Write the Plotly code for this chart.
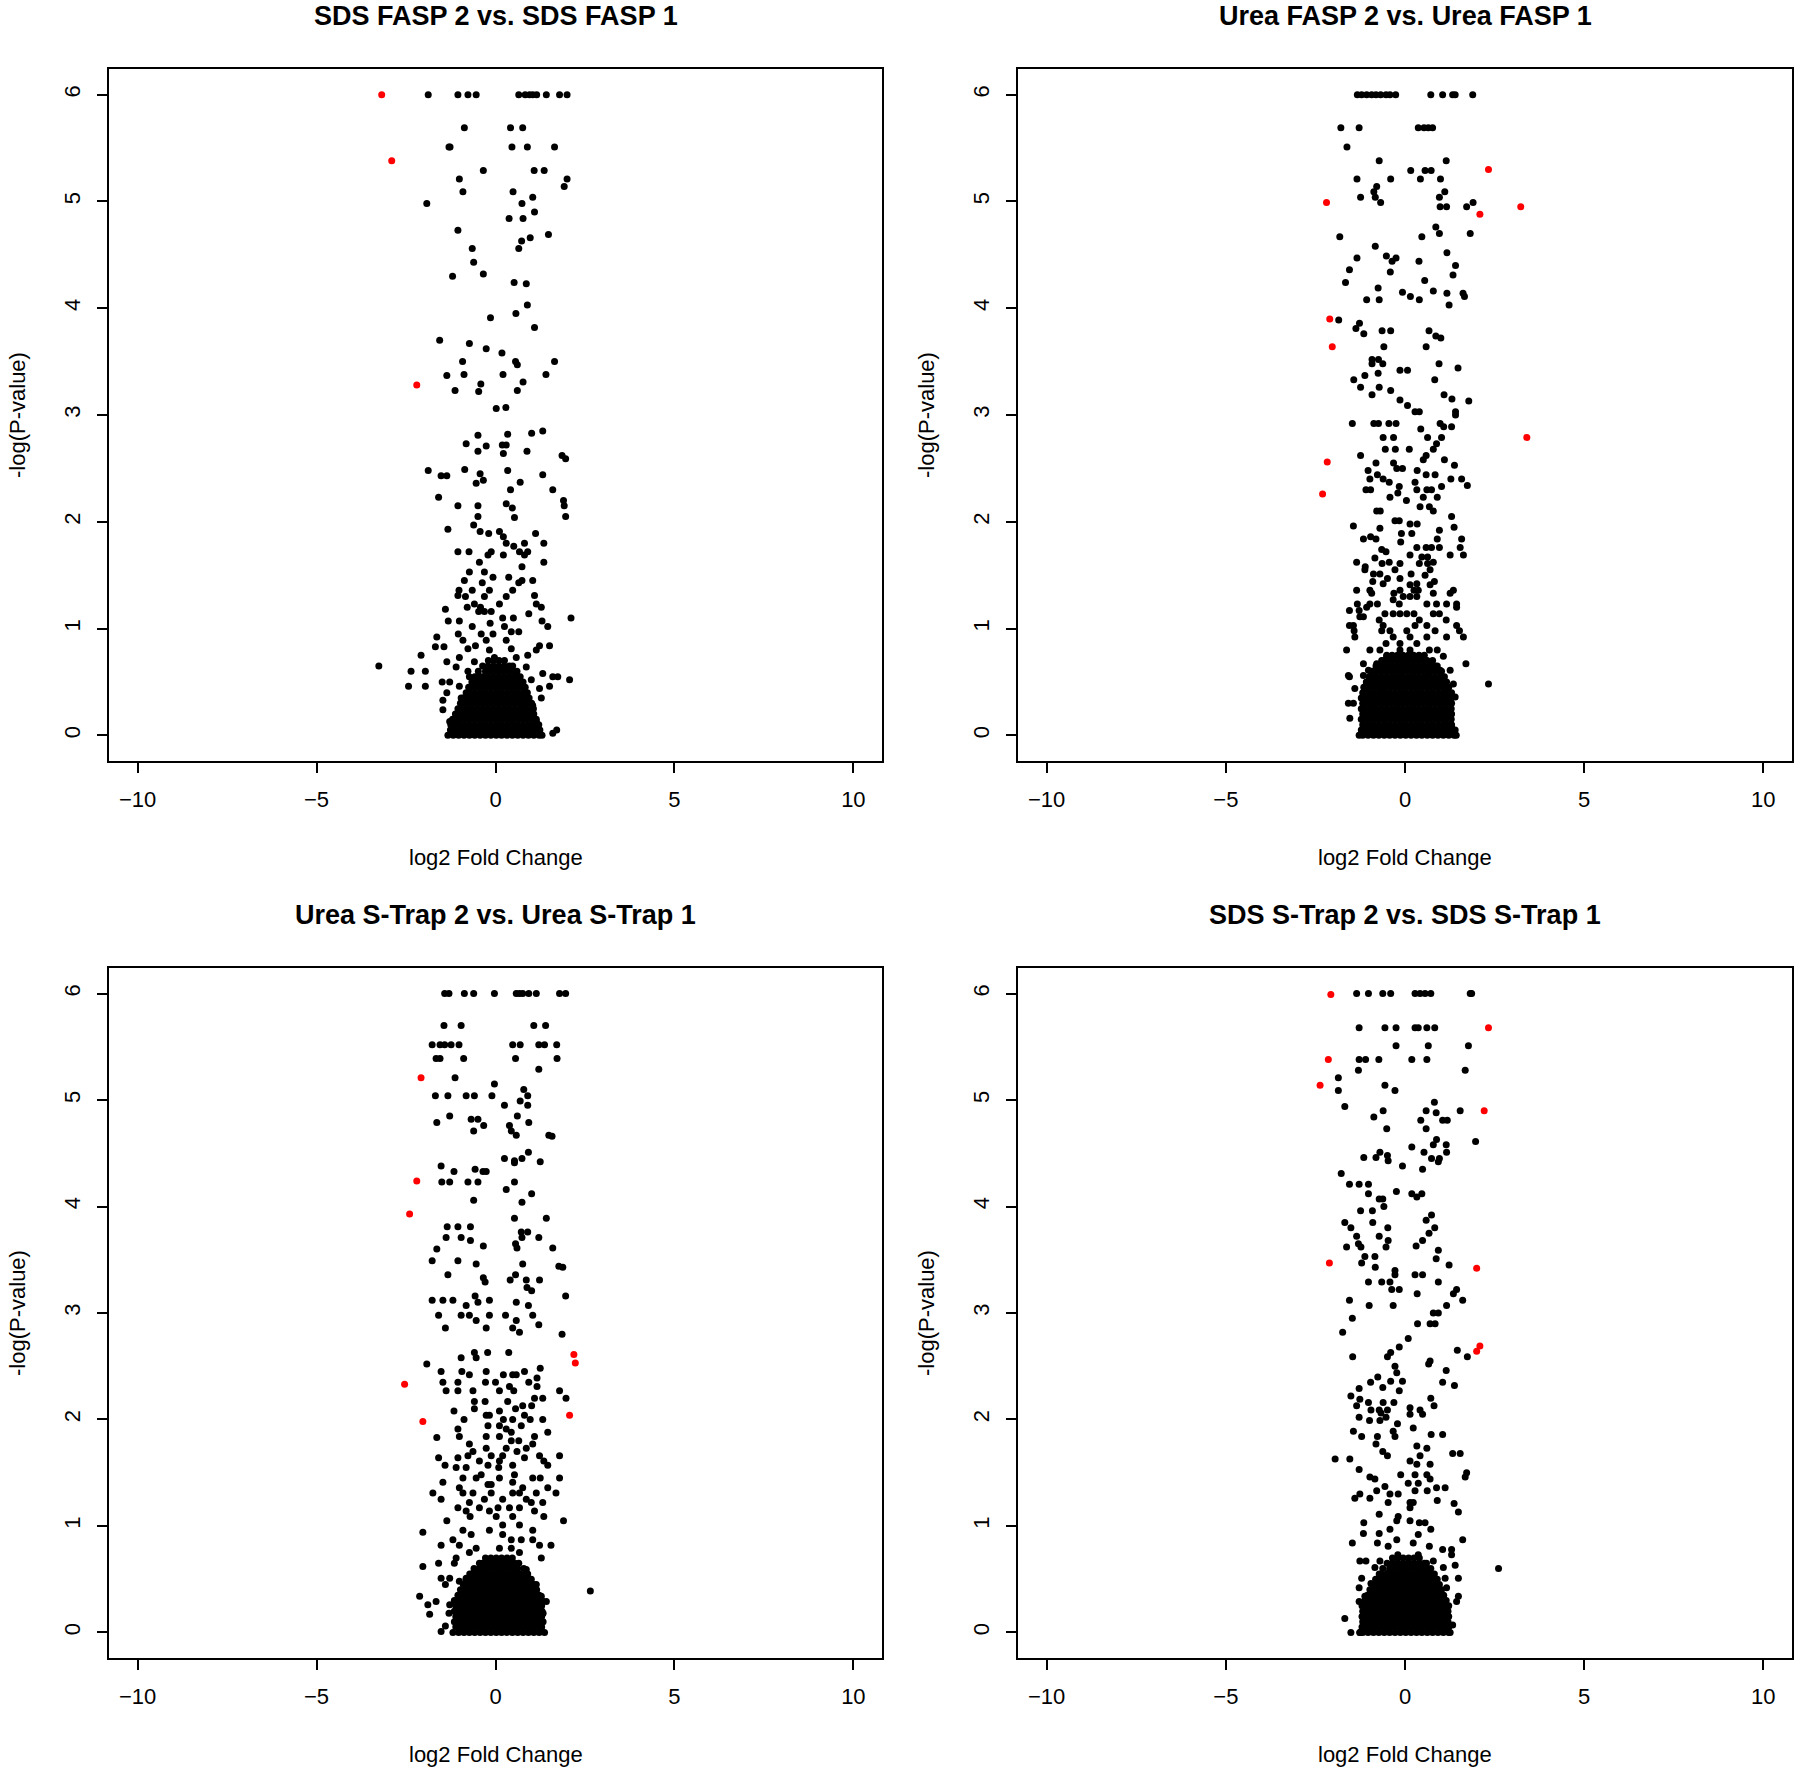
import plotly.graph_objects as go

FONT = "Liberation Sans, Arial, sans-serif"

titles = ["SDS FASP 2 vs. SDS FASP 1", "Urea FASP 2 vs. Urea FASP 1",
          "Urea S-Trap 2 vs. Urea S-Trap 1", "SDS S-Trap 2 vs. SDS S-Trap 1"]
x_label = "log2 Fold Change"
y_label = "-log(P-value)"
x_ticks = [-10, -5, 0, 5, 10]
y_ticks = [0, 1, 2, 3, 4, 5, 6]

# ---------------- Panel 1: SDS FASP ----------------
p1_black = [
    (-1.88,6),(-1.05,6),(-0.77,6),(-0.54,6),(0.65,6),(0.83,6),(0.95,6),(1.04,6),(1.15,6),(1.42,6),(1.79,6),(2.0,6),
    (-0.87,5.69),(0.42,5.69),(0.76,5.69),(-1.30,5.51),(-1.27,5.51),(0.46,5.51),(0.89,5.51),(1.65,5.51),
    (-0.34,5.29),(1.08,5.29),(1.36,5.29),(-1.01,5.21),(2.0,5.21),(1.92,5.14),(-0.91,5.09),(0.49,5.09),(1.04,5.04),
    (-1.92,4.98),(0.74,4.98),(1.09,4.90),(0.38,4.84),(0.77,4.84),(-1.05,4.73),(1.48,4.69),(0.97,4.66),(0.73,4.63),
    (-0.65,4.56),(0.65,4.56),(-0.61,4.43),(-0.34,4.32),(-1.20,4.30),(0.52,4.24),(0.86,4.23),(0.89,4.03),(0.57,3.95),
    (-0.14,3.91),(1.09,3.82),(-1.56,3.70),(-0.73,3.67),(-0.26,3.62),(0.18,3.58),(-0.92,3.50),(0.56,3.50),(0.61,3.47),
    (1.65,3.50),(-0.88,3.38),(0.21,3.38),(1.41,3.38),(-1.36,3.37),(0.77,3.31),(-0.41,3.29),(-1.13,3.23),(0.61,3.23),
    (-0.47,3.22),(0.02,3.06),(0.29,3.07),
    (1.32,2.85),(1.01,2.83),(0.34,2.82),(-0.49,2.81),(-0.82,2.73),(0.19,2.72),(0.30,2.72),(-0.26,2.71),(-0.49,2.66),
    (0.88,2.66),(0.22,2.64),(1.86,2.62),(1.96,2.59),(-0.86,2.49),(-1.88,2.48),(0.34,2.48),(-0.43,2.45),(1.32,2.44),
    (-1.52,2.43),(-1.36,2.43),(-0.34,2.39),(0.69,2.37),(-0.54,2.36),(0.42,2.30),(1.60,2.30),(-1.59,2.23),(1.90,2.20),
    (0.30,2.17),(-1.05,2.15),(-0.49,2.15),(1.92,2.15),(0.47,2.13),(-0.49,2.05),(1.96,2.05),(0.53,2.04),(-0.61,1.97),
    (-1.33,1.93),(-0.43,1.91),(0.11,1.91),(-0.19,1.89),(1.12,1.89),(0.22,1.86),(0.30,1.80),(0.81,1.80),(1.35,1.80),
    (0.51,1.77),(-1.05,1.72),(-0.74,1.72),(-0.12,1.72),(0.67,1.72),(0.90,1.72),(-0.21,1.69),(0.22,1.69),(0.81,1.69),
    (-0.45,1.62),(1.35,1.62),(0.74,1.58),(-0.73,1.53),(-0.31,1.53),(0.37,1.48),(-0.07,1.48),(-0.87,1.45),(0.74,1.45),
    (1.04,1.45),(-0.37,1.43),(0.65,1.43),(-1.02,1.36),(-0.65,1.36),(-0.17,1.36),(0.48,1.36),(-1.05,1.31),(1.09,1.31),
    (-0.84,1.30),(-0.31,1.30),(0.30,1.30),(-0.59,1.23),(0.11,1.23),(1.14,1.23),(-0.79,1.20),(-0.42,1.20),(1.28,1.20),
    (-1.40,1.18),(-0.31,1.16),(-0.12,1.16),(-0.47,1.16),(0.93,1.14),(2.11,1.10),(0.20,1.10),(0.50,1.10),(-1.32,1.07),
    (-1.01,1.07),(1.30,1.07),(-0.15,1.05),(-0.65,1.02),(1.46,1.02),(0.25,1.02),(0.65,0.97),(0.44,0.97),(-1.04,0.95),
    (-0.40,0.95),(-0.07,0.95),(-1.64,0.92),(-0.91,0.89),(0.30,0.89),(-0.26,0.89),(-0.56,0.84),(1.51,0.84),(1.23,0.84),
    (-1.68,0.83),(-1.44,0.83),(0.44,0.81),(-0.77,0.81),(-0.17,0.80),(1.14,0.80),(0.90,0.75),(-2.08,0.75),(-1.01,0.73),
    (-0.03,0.73),(0.58,0.73),(-1.36,0.69),(-0.59,0.69),(-3.26,0.65),(-1.10,0.64),(0.30,0.64),(0.86,0.64),(-1.96,0.60),
    (-2.36,0.60),(-0.77,0.60),(1.32,0.58),(0.58,0.58),(-0.45,0.55),(1.74,0.55),(1.60,0.55),(-0.73,0.55),(2.07,0.52),
    (1.00,0.52),(-1.49,0.50),(-1.28,0.50),(-2.43,0.46),(-1.96,0.46),(-1.01,0.46),(0.67,0.46),(1.51,0.46),(1.23,0.44),
    (-1.36,0.40),(-0.77,0.40),(1.28,0.35),(-0.96,0.35),(-1.47,0.33),(0.76,0.28),(1.04,0.28),(-1.47,0.24),(-0.63,0.24),
    (1.02,0.20),(-1.28,0.13),(-1.10,0.13),(1.14,0.13),(-1.19,0.09),(-0.91,0.09),(1.71,0.05),(1.60,0.02),
]
p1_red = [(-3.18,6.0),(-2.90,5.38),(-2.20,3.28)]
p1_dense_y = [0.00,0.05,0.10,0.15,0.20,0.25,0.30,0.35,0.40,0.45,0.50,0.55,0.60,0.65,0.70]
p1_dense_x = [
    [-1.33,-1.18,-1.03,-0.88,-0.73,-0.58,-0.43,-0.28,-0.13,0.02,0.17,0.32,0.47,0.62,0.77,0.92,1.07,1.22,1.30],
    [-1.26,-1.11,-0.96,-0.81,-0.66,-0.51,-0.36,-0.21,-0.06,0.09,0.24,0.39,0.54,0.69,0.84,0.99,1.14,1.24],
    [-1.25,-1.18,-1.03,-0.88,-0.73,-0.58,-0.43,-0.28,-0.13,0.02,0.17,0.32,0.47,0.62,0.77,0.92,1.07,1.21],
    [-1.20,-1.11,-0.96,-0.81,-0.66,-0.51,-0.36,-0.21,-0.06,0.09,0.24,0.39,0.54,0.69,0.84,0.99,1.14],
    [-1.12,-1.03,-0.88,-0.73,-0.58,-0.43,-0.28,-0.13,0.02,0.17,0.32,0.47,0.62,0.77,0.92,1.07],
    [-1.05,-0.96,-0.81,-0.66,-0.51,-0.36,-0.21,-0.06,0.09,0.24,0.39,0.54,0.69,0.84,0.99,1.06],
    [-0.98,-0.88,-0.73,-0.58,-0.43,-0.28,-0.13,0.02,0.17,0.32,0.47,0.62,0.77,0.92,1.01],
    [-0.90,-0.81,-0.66,-0.51,-0.36,-0.21,-0.06,0.09,0.24,0.39,0.54,0.69,0.84,0.94],
    [-0.82,-0.73,-0.58,-0.43,-0.28,-0.13,0.02,0.17,0.32,0.47,0.62,0.77,0.89],
    [-0.75,-0.66,-0.51,-0.36,-0.21,-0.06,0.09,0.24,0.39,0.54,0.69,0.83],
    [-0.66,-0.58,-0.43,-0.28,-0.13,0.02,0.17,0.32,0.47,0.62,0.77],
    [-0.58,-0.51,-0.36,-0.21,-0.06,0.09,0.24,0.39,0.54,0.69],
    [-0.48,-0.28,-0.13,0.02,0.17,0.32,0.47,0.60],
    [-0.36,-0.21,-0.06,0.09,0.24,0.39,0.48],
    [-0.20,-0.05,0.10,0.25],
]

# ---------------- Panel 2: Urea FASP ----------------
p2_black = [
    (-1.33,6),(-1.21,6),(-1.07,6),(-0.93,6),(-0.81,6),(-0.68,6),(-0.53,6),(-0.42,6),(-0.26,6),(0.72,6),(1.05,6),(1.33,6),(1.40,6),(1.89,6),
    (-1.79,5.69),(-1.28,5.69),(0.37,5.69),(0.53,5.69),(0.65,5.69),(0.77,5.69),(-1.62,5.51),(-0.72,5.38),(1.15,5.38),
    (0.16,5.29),(0.56,5.29),(0.73,5.29),(-1.34,5.21),(-0.40,5.21),(0.43,5.21),(0.99,5.21),(-0.79,5.14),(1.11,5.09),
    (-0.87,5.09),(-1.24,5.04),(-0.83,5.04),(0.96,5.04),(-0.68,4.99),(1.90,4.99),(0.98,4.95),(1.16,4.95),(1.72,4.95),
    (0.86,4.76),(0.96,4.70),(1.82,4.70),(-1.82,4.67),(0.47,4.67),(-0.83,4.58),(1.17,4.52),(-0.52,4.49),(-1.34,4.47),
    (-0.25,4.47),(-0.36,4.44),(0.39,4.44),(1.41,4.40),(-1.55,4.36),(-0.41,4.34),(1.34,4.31),(0.55,4.26),(-1.66,4.24),
    (-0.75,4.19),(0.79,4.16),(-0.07,4.15),(1.17,4.14),(1.62,4.14),(0.15,4.11),(1.66,4.11),(-1.07,4.08),(-0.72,4.08),
    (0.40,4.08),(1.23,4.03),(-1.85,3.89),(-1.27,3.86),(-1.37,3.81),(-0.64,3.79),(-0.40,3.79),(0.67,3.79),(-1.15,3.76),
    (0.86,3.74),(1.00,3.72),(-0.59,3.64),(0.59,3.64),(-0.92,3.52),(-0.74,3.52),(-0.92,3.48),(-0.62,3.48),(0.95,3.48),
    (1.48,3.44),(-0.14,3.42),(0.07,3.42),(-0.75,3.39),(-1.12,3.37),(-1.43,3.33),(0.83,3.33),(-1.24,3.26),(-0.72,3.26),
    (-0.40,3.23),(-0.92,3.19),(1.09,3.19),(1.31,3.15),(-0.14,3.14),(1.78,3.13),(0.07,3.09),(0.28,3.03),(0.40,3.03),
    (1.41,3.03),(1.41,3.00),
    (-1.47,2.92),(-0.87,2.92),(-0.74,2.92),(-0.45,2.92),(-0.25,2.92),(0.98,2.92),(1.08,2.89),(1.30,2.89),(0.44,2.87),
    (-0.61,2.79),(-0.32,2.79),(0.63,2.79),(1.02,2.79),(0.88,2.73),(-0.55,2.68),(-0.27,2.68),(0.12,2.68),(0.79,2.68),
    (-1.24,2.62),(0.59,2.62),(0.51,2.58),(1.10,2.58),(-0.81,2.55),(-0.32,2.55),(1.38,2.53),(-0.07,2.50),(-0.23,2.50),
    (-1.03,2.48),(0.34,2.48),(-0.77,2.44),(0.59,2.44),(0.84,2.44),(-0.98,2.40),(-0.61,2.40),(1.28,2.40),(1.58,2.40),
    (-0.44,2.37),(0.28,2.37),(1.74,2.34),(-0.16,2.33),(1.02,2.33),(-1.09,2.30),(-0.96,2.30),(0.33,2.30),(0.61,2.30),
    (0.74,2.30),(-0.20,2.27),(-0.42,2.23),(0.90,2.23),(0.51,2.23),(0.04,2.20),(0.42,2.14),(0.68,2.14),(-0.79,2.10),
    (0.79,2.10),(-0.69,2.10),(1.30,2.05),(-0.28,2.01),(-0.16,2.01),(0.14,1.98),(0.34,1.98),(-1.44,1.96),(1.37,1.95),
    (-0.70,1.94),(0.96,1.92),(-0.10,1.89),(0.19,1.89),(-0.96,1.86),(-1.16,1.84),(-0.81,1.84),(0.90,1.84),(1.58,1.84),
    (-0.12,1.81),(0.33,1.76),(0.59,1.76),(0.74,1.76),(0.96,1.76),(1.54,1.76),(-0.65,1.74),(-0.53,1.72),(1.63,1.69),
    (0.14,1.69),(1.26,1.69),(0.47,1.67),(0.63,1.67),(-0.84,1.66),(-1.35,1.62),(-0.44,1.62),(0.79,1.62),(0.40,1.61),
    (0.63,1.61),(-0.14,1.61),(-0.64,1.61),(-1.11,1.58),(-1.12,1.55),(0.70,1.55),(-0.28,1.55),(-0.70,1.51),(-0.88,1.51),
    (0.17,1.51),(0.56,1.50),(-0.14,1.47),(-0.49,1.47),(-0.90,1.44),(0.82,1.44),(0.33,1.42),(-0.61,1.42),(0.14,1.41),
    (0.70,1.41),(-1.35,1.36),(-0.98,1.36),(-0.14,1.36),(0.25,1.36),(0.37,1.36),(1.35,1.36),(-0.31,1.33),(-0.93,1.33),
    (0.79,1.33),(1.26,1.33),(-0.05,1.30),(0.33,1.30),(0.14,1.30),(-0.33,1.27),(-1.33,1.23),(-0.98,1.23),(-0.77,1.23),
    (-0.16,1.23),(0.61,1.23),(0.88,1.23),(1.16,1.23),(1.44,1.23),(-1.07,1.20),(1.44,1.20),(-1.55,1.17),(-1.28,1.17),
    (-0.56,1.14),(-0.33,1.14),(-0.14,1.14),(0.05,1.14),(0.25,1.14),(0.79,1.14),(0.96,1.14),(-1.26,1.11),(-1.16,1.11),
    (-0.72,1.08),(0.40,1.08),(1.15,1.08),(-1.55,1.03),(-1.44,1.03),(-0.61,1.03),(0.28,1.03),(0.61,1.03),(1.44,1.03),
    (-1.42,0.98),(-0.65,0.98),(-0.42,0.98),(0.05,0.98),(0.84,0.98),(1.52,0.98),(-1.40,0.92),(-0.33,0.92),(0.14,0.92),
    (0.61,0.92),(1.63,0.92),(1.16,0.92),(-0.53,0.86),(-0.14,0.86),(0.33,0.86),(-1.63,0.80),(-0.98,0.80),(-0.70,0.80),
    (-0.14,0.80),(0.14,0.80),(0.68,0.80),(0.90,0.80),(-0.51,0.74),(0.42,0.74),(1.07,0.74),(-1.16,0.67),(-0.79,0.67),
    (0.05,0.67),(0.74,0.67),(1.70,0.67),(-1.02,0.61),(-0.70,0.61),(-0.33,0.61),(0.98,0.61),(1.26,0.61),(-1.58,0.56),
    (-1.16,0.56),(-1.55,0.55),(-0.98,0.55),(-0.14,0.55),(0.61,0.55),(2.33,0.48),(-1.07,0.48),(1.07,0.48),(1.35,0.48),
    (-1.40,0.44),(-0.70,0.44),(-1.16,0.39),(1.16,0.39),(1.40,0.36),(-0.98,0.36),(-1.58,0.30),(-1.44,0.30),(-1.16,0.30),
    (1.26,0.30),(-0.93,0.27),(-1.12,0.22),(1.16,0.22),(-1.54,0.16),(-1.07,0.16),(-1.12,0.09),(1.16,0.09),(1.30,0.09),
    (1.40,0.05),
]
p2_red = [(2.33,5.30),(-2.19,4.99),(3.23,4.95),(2.09,4.88),(-2.10,3.90),(-2.03,3.64),(3.40,2.79),(-2.17,2.56),(-2.30,2.26)]
p2_row0 = [-1.28,-1.18,-1.03,-0.88,-0.73,-0.58,-0.43,-0.28,-0.13,0.02,0.17,0.32,0.47,0.62,0.77,0.92,1.07,1.22,1.37,1.43]
p2_rowa = [-1.18,-1.03,-0.88,-0.73,-0.58,-0.43,-0.28,-0.13,0.02,0.17,0.32,0.47,0.62,0.77,0.92,1.07,1.22,1.30]
p2_rowb = [-1.22,-1.11,-0.96,-0.81,-0.66,-0.51,-0.36,-0.21,-0.06,0.09,0.24,0.39,0.54,0.69,0.84,0.99,1.14,1.29]
p2_dense_y = [0.00,0.05,0.10,0.15,0.20,0.25,0.30,0.35,0.40,0.45,0.50,0.55,0.60,0.65,0.70,0.75]
p2_dense_x = [
    p2_row0, p2_rowb, p2_rowa, p2_rowb, p2_rowa, p2_rowb, p2_rowa, p2_rowb, p2_rowa,
    [-1.15,-1.11,-0.96,-0.81,-0.66,-0.51,-0.36,-0.21,-0.06,0.09,0.24,0.39,0.54,0.69,0.84,0.99,1.14,1.22],
    [-1.08,-1.03,-0.88,-0.73,-0.58,-0.43,-0.28,-0.13,0.02,0.17,0.32,0.47,0.62,0.77,0.92,1.07,1.16],
    [-1.00,-0.96,-0.81,-0.66,-0.51,-0.36,-0.21,-0.06,0.09,0.24,0.39,0.54,0.69,0.84,0.99,1.10],
    [-0.92,-0.88,-0.73,-0.58,-0.43,-0.28,-0.13,0.02,0.17,0.32,0.47,0.62,0.77,0.92,1.02],
    [-0.81,-0.66,-0.51,-0.36,-0.21,-0.06,0.09,0.24,0.39,0.54,0.69,0.84,0.90],
    [-0.65,-0.58,-0.43,-0.28,-0.13,0.02,0.17,0.32,0.47,0.62,0.77],
    [-0.51,-0.36,-0.21,-0.06,0.09,0.24,0.39,0.54],
]

# ---------------- Panel 3: Urea S-Trap ----------------
p3_black = [
    (-1.42,6),(-1.30,6),(-0.87,6),(-0.61,6),(-0.03,6),(0.58,6),(0.67,6),(0.76,6),(0.93,6),(1.14,6),(1.79,6),(1.96,6),
    (-1.44,5.70),(-0.96,5.70),(1.07,5.70),(1.40,5.70),(-1.77,5.52),(-1.55,5.52),(-1.42,5.52),(-1.24,5.52),(-1.02,5.52),
    (0.48,5.52),(0.69,5.52),(1.21,5.52),(1.37,5.52),(1.71,5.52),(-1.66,5.39),(-1.55,5.39),(-0.89,5.39),(0.56,5.39),
    (1.72,5.39),(1.21,5.29),(-1.13,5.21),(-0.03,5.15),(0.79,5.10),(-1.68,5.04),(-1.33,5.04),(-0.82,5.04),(-0.59,5.04),
    (-0.10,5.04),(0.90,5.04),(0.69,4.99),(0.25,4.95),(0.90,4.95),(-1.28,4.85),(0.61,4.85),(-0.68,4.82),(-0.49,4.82),
    (-1.64,4.79),(0.93,4.79),(-0.33,4.76),(0.39,4.76),(-0.61,4.71),(0.44,4.71),(0.58,4.67),(1.49,4.67),(1.58,4.66),
    (0.92,4.51),(0.25,4.45),(0.74,4.45),(0.53,4.43),(1.25,4.42),(0.53,4.41),(-1.52,4.38),(-0.57,4.35),(-1.16,4.33),
    (-0.35,4.33),(-0.26,4.33),(-1.50,4.23),(-1.28,4.23),(-0.77,4.23),(-0.49,4.23),(0.53,4.23),(0.30,4.16),(1.01,4.12),
    (-0.61,4.06),(0.74,4.04),(0.53,3.89),(1.42,3.89),(-1.35,3.81),(-1.05,3.81),(-0.70,3.81),(0.72,3.76),(0.90,3.76),
    (-1.38,3.71),(-0.96,3.71),(1.21,3.71),(0.74,3.71),(-0.70,3.68),(0.56,3.65),(-0.34,3.63),(0.60,3.61),(1.60,3.61),
    (-1.64,3.60),(-1.77,3.49),(-1.05,3.49),(0.76,3.46),(-0.54,3.46),(1.77,3.44),(1.88,3.43),(-1.33,3.36),(0.56,3.36),
    (-0.34,3.33),(0.41,3.31),(0.86,3.31),(1.23,3.31),(-0.29,3.29),(0.88,3.24),(1.01,3.21),(-0.57,3.16),(1.96,3.16),
    (-1.77,3.12),(-1.47,3.12),(-1.19,3.12),(-0.17,3.12),(-0.49,3.10),(0.58,3.10),(-0.82,3.07),(0.92,3.07),
    (-1.59,2.98),(-0.96,2.98),(-0.73,2.98),(-0.17,2.98),(0.28,2.98),(1.04,2.98),(-0.54,2.93),(0.58,2.93),(1.21,2.89),
    (-1.40,2.86),(-0.26,2.86),(0.48,2.86),(0.67,2.82),(1.86,2.80),(-0.59,2.63),(-0.22,2.63),(0.37,2.63),(-0.96,2.58),
    (-0.54,2.58),(-1.92,2.52),(1.25,2.48),(-1.52,2.45),(-0.94,2.45),(-0.26,2.45),(0.81,2.45),(-0.73,2.42),(0.22,2.42),
    (0.48,2.42),(0.58,2.42),(1.16,2.39),(-1.47,2.35),(-1.05,2.35),(-0.28,2.35),(0.00,2.35),(0.93,2.35),(0.39,2.31),
    (1.16,2.31),(-1.38,2.27),(-1.05,2.27),(-0.63,2.27),(0.11,2.27),(0.51,2.27),(1.79,2.27),(1.97,2.20),(1.32,2.20),
    (1.09,2.20),(-0.29,2.17),(-0.59,2.17),(0.34,2.17),(1.01,2.13),(0.76,2.13),(-0.59,2.10),(0.56,2.10),(-1.16,2.08),
    (0.11,2.08),(0.81,2.04),(-0.26,2.04),(-0.17,2.04),(-0.88,2.00),(0.22,2.00),(0.48,2.00),(0.97,2.00),(1.32,2.00),
    (-0.21,1.94),(0.11,1.94),(0.72,1.94),(-1.05,1.91),(0.30,1.91),(1.46,1.88),(0.44,1.88),(-1.01,1.84),(-0.26,1.84),
    (0.11,1.84),(1.09,1.84),(-1.64,1.83),(0.44,1.80),(0.65,1.80),(-0.73,1.77),(1.04,1.77),(-0.26,1.73),(0.30,1.73),
    (0.86,1.73),(-0.63,1.70),(0.60,1.70),(-0.77,1.66),(-0.12,1.66),(0.20,1.66),(1.23,1.66),(1.79,1.66),(-1.59,1.64),
    (-1.05,1.64),(0.81,1.64),(-0.45,1.61),(0.11,1.61),(1.35,1.61),(-1.41,1.57),(-0.21,1.57),(0.48,1.57),(1.46,1.57),
    (-1.10,1.55),(-0.82,1.55),(0.09,1.55),(-0.40,1.48),(0.53,1.48),(-0.91,1.45),(-0.54,1.45),(0.11,1.45),(1.04,1.45),
    (1.25,1.45),(1.79,1.45),(-1.47,1.41),(0.48,1.41),(-0.21,1.39),(-0.12,1.39),(-1.01,1.36),(0.76,1.36),(1.46,1.36),
    (-1.75,1.31),(-0.91,1.31),(-0.63,1.31),(-0.12,1.31),(0.48,1.31),(0.67,1.31),(1.14,1.31),(1.69,1.31),(-1.52,1.25),
    (0.20,1.25),(0.86,1.25),(-0.31,1.25),(-0.73,1.22),(1.32,1.22),(1.00,1.22),(-1.05,1.17),(-0.45,1.17),(0.07,1.17),
    (0.39,1.17),(0.67,1.17),(-0.82,1.14),(-0.17,1.14),(1.09,1.14),(1.35,1.09),(0.48,1.09),(0.02,1.09),(-0.71,1.09),
    (-1.36,1.05),(1.90,1.05),(0.20,1.01),(0.67,1.01),(-0.91,0.96),(-0.17,0.96),(1.04,0.96),(-2.03,0.94),(-0.68,0.92),
    (0.20,0.92),(-1.19,0.87),(0.44,0.87),(0.72,0.87),(1.04,0.87),(-1.52,0.82),(-1.01,0.82),(1.23,0.82),(1.55,0.82),
    (-0.54,0.79),(0.11,0.79),(0.44,0.79),(-0.73,0.75),(0.67,0.75),(-1.10,0.70),(1.28,0.70),(-1.59,0.65),(-1.15,0.65),
    (-2.03,0.62),(-0.49,0.59),(0.86,0.59),(-1.52,0.51),(-1.28,0.51),(-0.82,0.51),(0.86,0.51),(-1.01,0.48),(-1.40,0.45),
    (1.14,0.45),(2.65,0.39),(-2.12,0.34),(1.28,0.34),(-1.66,0.29),(1.42,0.29),(-1.89,0.26),(-1.28,0.26),(-1.30,0.18),
    (1.33,0.18),(-1.84,0.17),(1.33,0.10),(-1.40,0.06),(-1.52,0.01),(1.28,0.01),
]
p3_red = [(-2.08,5.21),(-2.20,4.24),(-2.40,3.93),(2.19,2.61),(2.23,2.53),(-2.54,2.33),(2.07,2.04),(-2.03,1.98)]
p3_rowa = [-1.15,-1.03,-0.88,-0.73,-0.58,-0.43,-0.28,-0.13,0.02,0.17,0.32,0.47,0.62,0.77,0.92,1.07,1.22,1.30]
p3_rowb = [-1.11,-0.96,-0.81,-0.66,-0.51,-0.36,-0.21,-0.06,0.09,0.24,0.39,0.54,0.69,0.84,0.99,1.14,1.29]
p3_dense_y = [0.00,0.05,0.10,0.15,0.20,0.25,0.30,0.35,0.40,0.45,0.50,0.55,0.60,0.65,0.70]
p3_dense_x = [
    [-1.19,-1.03,-0.88,-0.73,-0.58,-0.43,-0.28,-0.13,0.02,0.17,0.32,0.47,0.62,0.77,0.92,1.07,1.22,1.37],
    p3_rowb, p3_rowa, p3_rowb, p3_rowa, p3_rowb, p3_rowa,
    [-1.05,-0.96,-0.81,-0.66,-0.51,-0.36,-0.21,-0.06,0.09,0.24,0.39,0.54,0.69,0.84,0.99,1.14,1.22],
    [-0.98,-0.88,-0.73,-0.58,-0.43,-0.28,-0.13,0.02,0.17,0.32,0.47,0.62,0.77,0.92,1.07,1.15],
    [-0.90,-0.81,-0.66,-0.51,-0.36,-0.21,-0.06,0.09,0.24,0.39,0.54,0.69,0.84,0.99,1.08],
    [-0.82,-0.73,-0.58,-0.43,-0.28,-0.13,0.02,0.17,0.32,0.47,0.62,0.77,0.92,1.00],
    [-0.72,-0.66,-0.51,-0.36,-0.21,-0.06,0.09,0.24,0.39,0.54,0.69,0.84,0.90],
    [-0.60,-0.43,-0.28,-0.13,0.02,0.17,0.32,0.47,0.62,0.79],
    [-0.45,-0.36,-0.21,-0.06,0.09,0.24,0.39,0.54,0.65],
    [-0.28,-0.13,0.02,0.17,0.32,0.47],
]

# ---------------- Panel 4: SDS S-Trap ----------------
p4_black = [
    (-1.35,6),(-1.02,6),(-0.62,6),(-0.40,6),(0.28,6),(0.42,6),(0.56,6),(0.72,6),(1.82,6),(1.86,6),
    (-1.28,5.68),(-0.56,5.68),(-0.25,5.68),(0.28,5.68),(0.37,5.68),(0.61,5.68),(0.83,5.68),(-0.25,5.51),(0.65,5.51),
    (1.77,5.51),(-1.28,5.38),(-1.10,5.38),(-0.73,5.38),(0.19,5.38),(0.61,5.38),(-1.30,5.28),(1.68,5.28),(-1.86,5.21),
    (-0.56,5.14),(-1.86,5.09),(-0.28,5.09),(0.82,4.98),(-1.68,4.94),(-0.61,4.90),(0.59,4.90),(1.54,4.90),(0.87,4.88),
    (-0.87,4.84),(0.44,4.81),(1.05,4.81),(1.18,4.81),(-0.51,4.73),(0.59,4.73),(0.88,4.63),(1.97,4.61),(0.79,4.58),
    (1.15,4.58),(0.19,4.56),(-0.70,4.51),(0.53,4.51),(1.16,4.51),(-0.49,4.48),(-1.15,4.46),(-0.81,4.46),(0.74,4.45),
    (0.96,4.45),(-0.47,4.43),(0.93,4.42),(-0.07,4.38),(0.49,4.35),(-1.78,4.31),(-1.55,4.21),(-1.28,4.21),(-1.02,4.21),
    (-0.24,4.14),(-1.02,4.12),(0.19,4.12),(0.47,4.12),(0.33,4.09),(-0.72,4.07),(-0.62,4.07),(-0.59,4.00),(-1.24,3.96),
    (-0.91,3.96),(0.74,3.92),(0.59,3.87),(-1.68,3.85),(-0.90,3.85),(-1.51,3.80),(-0.48,3.80),(0.83,3.80),(0.67,3.75),
    (-0.72,3.72),(-1.35,3.72),(0.49,3.68),(-0.47,3.68),(-1.30,3.65),(0.31,3.63),(-1.63,3.62),(-1.23,3.62),(-0.53,3.62),
    (0.93,3.59),(-0.84,3.53),(-1.12,3.53),(0.87,3.51),(-1.21,3.47),(1.23,3.45),(-0.83,3.43),(-0.28,3.40),(0.28,3.36),
    (0.49,3.36),(-0.28,3.36),(-1.02,3.29),(-0.65,3.29),(-0.42,3.29),(0.93,3.29),(-0.16,3.22),(1.44,3.22),(-0.37,3.22),
    (1.35,3.18),(0.34,3.18),(-1.55,3.12),(1.61,3.12),(-1.00,3.07),(-0.33,3.07),(1.16,3.07),(0.79,3.00),(0.93,3.00),
    (-1.47,2.95),
    (0.35,2.90),(0.70,2.90),(0.84,2.90),(-1.74,2.82),(0.09,2.76),(-0.16,2.68),(1.46,2.65),(-0.40,2.63),(-1.46,2.59),
    (-0.49,2.59),(1.74,2.59),(0.70,2.55),(0.66,2.52),(-0.28,2.50),(1.15,2.46),(-0.23,2.44),(-0.76,2.40),(-0.07,2.36),
    (-0.40,2.36),(-0.96,2.35),(1.05,2.35),(1.38,2.32),(-0.62,2.30),(-1.28,2.29),(-0.16,2.27),(-1.51,2.22),(0.72,2.20),
    (-1.26,2.19),(-1.02,2.16),(-0.61,2.16),(-0.31,2.16),(-1.35,2.13),(0.81,2.13),(0.14,2.11),(-0.95,2.09),(-0.72,2.09),
    (-0.49,2.09),(0.42,2.09),(-0.67,2.06),(0.14,2.05),(0.49,2.05),(-1.28,2.02),(-0.53,2.02),(-0.99,1.99),(-0.70,1.99),
    (-0.21,1.96),(0.23,1.92),(-1.44,1.89),(-0.33,1.89),(0.73,1.86),(1.05,1.86),(-1.21,1.84),(-0.77,1.84),(-0.28,1.84),
    (-0.81,1.77),(0.33,1.75),(0.61,1.73),(-0.62,1.70),(1.33,1.68),(1.54,1.68),(-0.49,1.66),(0.42,1.66),(-1.95,1.63),
    (-1.54,1.63),(0.14,1.61),(0.70,1.58),(0.33,1.58),(-1.28,1.53),(1.72,1.50),(-0.12,1.48),(0.28,1.48),(0.61,1.48),
    (-0.98,1.46),(1.68,1.46),(-0.84,1.44),(0.70,1.44),(0.09,1.40),(0.37,1.40),(-0.56,1.37),(0.88,1.36),(1.12,1.36),
    (0.28,1.33),(0.62,1.33),(-0.79,1.33),(-1.26,1.30),(-0.42,1.30),(-0.19,1.30),(-1.40,1.26),(-0.98,1.26),(0.90,1.24),
    (-0.47,1.22),(0.14,1.22),(0.23,1.22),(1.37,1.21),(0.14,1.17),(1.49,1.13),(-0.72,1.11),(-0.19,1.09),(-0.23,1.05),
    (0.14,1.05),(-1.15,1.03),(0.40,1.03),(0.56,1.03),(0.72,0.97),(-0.42,0.97),(-0.72,0.93),(-1.16,0.93),(0.37,0.92),
    (-0.23,0.87),(1.61,0.87),(-1.47,0.84),(-0.77,0.84),(0.23,0.84),(0.68,0.81),(-0.47,0.81),(1.30,0.78),(1.05,0.78),
    (-0.20,0.73),(0.37,0.73),(1.30,0.73),(-1.26,0.67),(-1.09,0.67),(-0.70,0.67),(0.79,0.67),(1.40,0.63),(-0.84,0.61),
    (1.07,0.61),(2.61,0.60),(-0.47,0.56),(0.59,0.56),(-1.21,0.51),(1.49,0.51),(1.12,0.51),(-0.95,0.46),(-1.28,0.42),
    (1.16,0.42),(1.49,0.34),(-1.12,0.34),(-1.28,0.29),(1.44,0.29),(-0.98,0.24),(1.07,0.24),(-1.68,0.13),(-1.07,0.13),
    (1.33,0.07),(-1.51,0.00),(-1.26,0.00),
]
p4_red = [(-2.07,5.99),(2.33,5.68),(-2.14,5.38),(-2.37,5.14),(2.21,4.90),(-2.11,3.47),(2.00,3.42),(2.09,2.69),(2.00,2.64)]
p4_rowa = [-1.18,-1.03,-0.88,-0.73,-0.58,-0.43,-0.28,-0.13,0.02,0.17,0.32,0.47,0.62,0.77,0.92,1.07,1.20]
p4_rowb = [-1.20,-1.11,-0.96,-0.81,-0.66,-0.51,-0.36,-0.21,-0.06,0.09,0.24,0.39,0.54,0.69,0.84,0.99,1.14,1.22]
p4_dense_y = [0.00,0.05,0.10,0.15,0.20,0.25,0.30,0.35,0.40,0.45,0.50,0.55,0.60,0.65,0.70]
p4_dense_x = [
    [-1.26,-1.18,-1.03,-0.88,-0.73,-0.58,-0.43,-0.28,-0.13,0.02,0.17,0.32,0.47,0.62,0.77,0.92,1.07,1.22,1.26],
    p4_rowb, p4_rowa, p4_rowb, p4_rowa, p4_rowb,
    [-1.12,-1.03,-0.88,-0.73,-0.58,-0.43,-0.28,-0.13,0.02,0.17,0.32,0.47,0.62,0.77,0.92,1.07,1.15],
    [-1.05,-0.96,-0.81,-0.66,-0.51,-0.36,-0.21,-0.06,0.09,0.24,0.39,0.54,0.69,0.84,0.99,1.08],
    [-0.98,-0.88,-0.73,-0.58,-0.43,-0.28,-0.13,0.02,0.17,0.32,0.47,0.62,0.77,0.92,1.02],
    [-0.90,-0.81,-0.66,-0.51,-0.36,-0.21,-0.06,0.09,0.24,0.39,0.54,0.69,0.84,0.96],
    [-0.82,-0.73,-0.58,-0.43,-0.28,-0.13,0.02,0.17,0.32,0.47,0.62,0.77,0.90],
    [-0.72,-0.66,-0.51,-0.36,-0.21,-0.06,0.09,0.24,0.39,0.54,0.69,0.82],
    [-0.62,-0.43,-0.28,-0.13,0.02,0.17,0.32,0.47,0.62,0.72],
    [-0.50,-0.36,-0.21,-0.06,0.09,0.24,0.39,0.54,0.60],
    [-0.35,-0.20,-0.05,0.10,0.25,0.40],
]

panels = [
    (p1_black, p1_red, p1_dense_y, p1_dense_x),
    (p2_black, p2_red, p2_dense_y, p2_dense_x),
    (p3_black, p3_red, p3_dense_y, p3_dense_x),
    (p4_black, p4_red, p4_dense_y, p4_dense_x),
]

W, H = 1800, 1773
# plot boxes in pixels: (left, right, top, bottom)
boxes = [(109, 882, 69, 761), (1018, 1792, 69, 761),
         (109, 882, 968, 1658), (1018, 1792, 968, 1658)]

fig = go.Figure()
MS = 7

for i, (blk, red, dy, dx) in enumerate(panels):
    ax = "" if i == 0 else str(i + 1)
    bx = [p[0] for p in blk]
    by = [p[1] for p in blk]
    for yy, row in zip(dy, dx):
        for xx in row:
            bx.append(xx)
            by.append(yy)
    fig.add_trace(go.Scatter(x=bx, y=by, mode="markers",
                             marker=dict(color="black", size=MS, line=dict(width=0)),
                             xaxis="x" + ax, yaxis="y" + ax, showlegend=False, hoverinfo="skip"))
    fig.add_trace(go.Scatter(x=[p[0] for p in red], y=[p[1] for p in red], mode="markers",
                             marker=dict(color="#FF0000", size=MS, line=dict(width=0)),
                             xaxis="x" + ax, yaxis="y" + ax, showlegend=False, hoverinfo="skip"))

layout = dict(width=W, height=H, paper_bgcolor="white", plot_bgcolor="white",
              margin=dict(l=0, r=0, t=0, b=0), showlegend=False,
              font=dict(family=FONT, color="black"))

annotations = []
for i, (l, r, t, b) in enumerate(boxes):
    ax = "" if i == 0 else str(i + 1)
    xd = [l / W, r / W]
    yd = [1 - b / H, 1 - t / H]
    layout["xaxis" + ax] = dict(domain=xd, range=[-10.8, 10.8], anchor="y" + ax,
                                tickvals=x_ticks, ticks="outside", ticklen=10, tickwidth=1.5,
                                tickcolor="black", showline=True, mirror=True, linecolor="black",
                                linewidth=1.5, showgrid=False, zeroline=False,
                                tickfont=dict(size=22, family=FONT, color="black"),
                                ticklabelstandoff=8, automargin=False)
    layout["yaxis" + ax] = dict(domain=yd, range=[-0.24, 6.24], anchor="x" + ax,
                                tickvals=y_ticks, ticks="outside", ticklen=10, tickwidth=1.5,
                                tickcolor="black", showline=True, mirror=True, linecolor="black",
                                linewidth=1.5, showgrid=False, zeroline=False, tickangle=-90,
                                tickfont=dict(size=22, family=FONT, color="black"),
                                ticklabelstandoff=8, automargin=False)
    cx = (l + r) / 2 / W
    title_y = 16 if t < 500 else 915
    annotations.append(dict(text="<b>" + titles[i] + "</b>", x=cx, y=1 - title_y / H,
                            xref="paper", yref="paper", showarrow=False,
                            xanchor="center", yanchor="middle",
                            font=dict(size=27, family=FONT, color="black")))
    annotations.append(dict(text=x_label, x=cx, y=1 - (b + 96) / H, xref="paper", yref="paper",
                            showarrow=False, xanchor="center", yanchor="middle",
                            font=dict(size=22, family=FONT, color="black")))
    annotations.append(dict(text=y_label, x=(l - 92) / W, y=1 - (t + b) / 2 / H,
                            xref="paper", yref="paper", showarrow=False, textangle=-90,
                            xanchor="center", yanchor="middle",
                            font=dict(size=22, family=FONT, color="black")))

layout["annotations"] = annotations
fig.update_layout(**layout)
fig.write_html("out.html", config={"displayModeBar": False},
               post_script="document.body.style.margin='0px';document.body.style.overflow='hidden';")
